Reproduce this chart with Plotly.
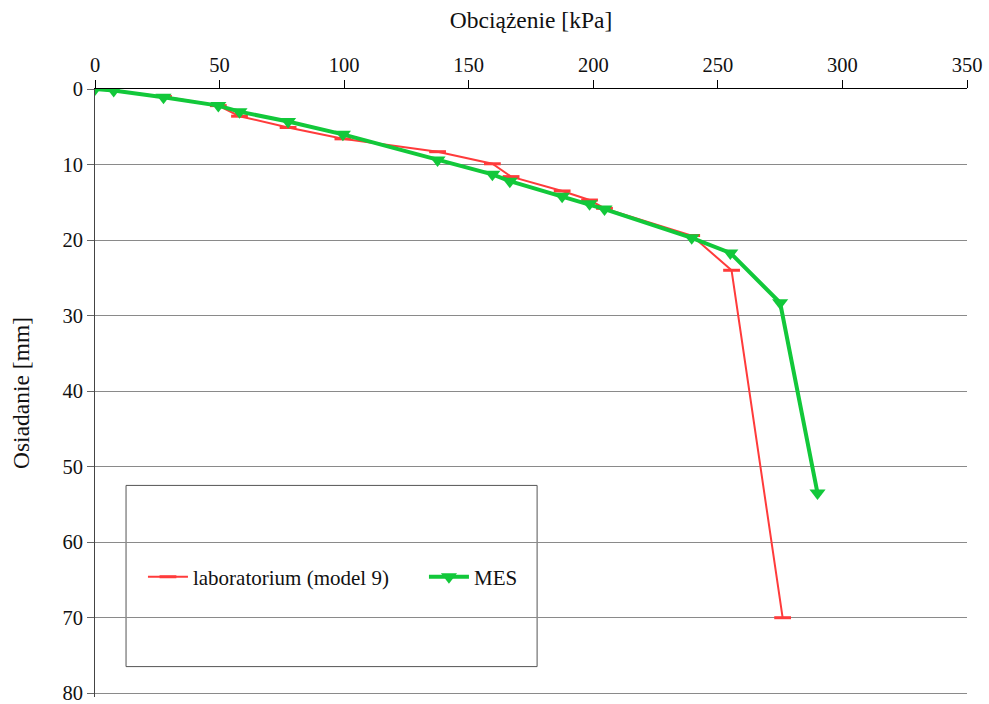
import plotly.graph_objects as go

# Laboratory test (model 9): load [kPa] vs settlement [mm]
lab_load = [0, 27.5, 49.5, 58, 77.5, 99.5, 137.5, 159.5, 167, 187.5, 198.5, 204.5, 239.5, 255.5, 276]
lab_settle = [0, 1.0, 2.2, 3.6, 5.1, 6.6, 8.3, 9.9, 11.6, 13.5, 14.7, 15.8, 19.4, 24.0, 70.0]

# FEM (MES) results
mes_load = [0, 7.5, 27.5, 49.5, 58, 77.5, 99.5, 137.5, 159.5, 166.5, 187.5, 198.5, 204.5, 239.5, 255, 275, 290]
mes_settle = [0, 0.2, 1.1, 2.2, 3.0, 4.3, 6.0, 9.4, 11.3, 12.2, 14.2, 15.2, 15.9, 19.7, 21.7, 28.3, 53.5]

x_ticks = [0, 50, 100, 150, 200, 250, 300, 350]
y_ticks = [0, 10, 20, 30, 40, 50, 60, 70, 80]

RED = "#ff3b3b"
GREEN = "#12c83a"
FONT = "Times New Roman"

fig = go.Figure()
fig.add_trace(go.Scatter(
    x=lab_load, y=lab_settle, mode="lines+markers",
    name="laboratorium (model 9)",
    line=dict(color=RED, width=2),
    marker=dict(symbol="line-ew", size=12, line=dict(color=RED, width=3)),
))
fig.add_trace(go.Scatter(
    x=mes_load, y=mes_settle, mode="lines+markers",
    name="MES",
    line=dict(color=GREEN, width=4),
    marker=dict(symbol="triangle-down", size=14, color=GREEN),
))

# legend frame
fig.add_shape(type="rect", xref="paper", yref="paper",
              x0=0.0356, x1=0.507, y0=0.050, y1=0.348,
              line=dict(color="#555555", width=1), fillcolor="white", layer="below")

fig.update_layout(
    width=989, height=704,
    margin=dict(l=95, r=22, t=89, b=7),
    paper_bgcolor="white", plot_bgcolor="white",
    font=dict(family=FONT, size=20, color="#111111"),
    showlegend=True,
    legend=dict(orientation="h", x=0.055, y=0.197, xanchor="left", yanchor="middle",
                bgcolor="rgba(0,0,0,0)", font=dict(family=FONT, size=21),
                itemwidth=40, entrywidth=226, entrywidthmode="pixels"),
    xaxis=dict(
        side="top", range=[0, 350], tickvals=x_ticks, automargin=False,
        showgrid=False, zeroline=False,
        showline=True, linecolor="#000000", linewidth=1,
        ticks="outside", ticklen=8, tickcolor="#000000",
        title=dict(text="Obciążenie [kPa]", font=dict(family=FONT, size=23.5), standoff=18),
        tickfont=dict(family=FONT, size=20.5),
    ),
    yaxis=dict(
        range=[80.5, 0], tickvals=y_ticks, automargin=False,
        showgrid=True, gridcolor="#8a8a8a", gridwidth=1, zeroline=False,
        showline=True, linecolor="#444444", linewidth=1,
        ticks="outside", ticklen=7, tickcolor="#666666",
        ticklabeloverflow="allow",
        title=dict(text="Osiadanie [mm]", font=dict(family=FONT, size=23.5), standoff=26),
        tickfont=dict(family=FONT, size=20.5),
    ),
)

fig.write_html("out.html")
